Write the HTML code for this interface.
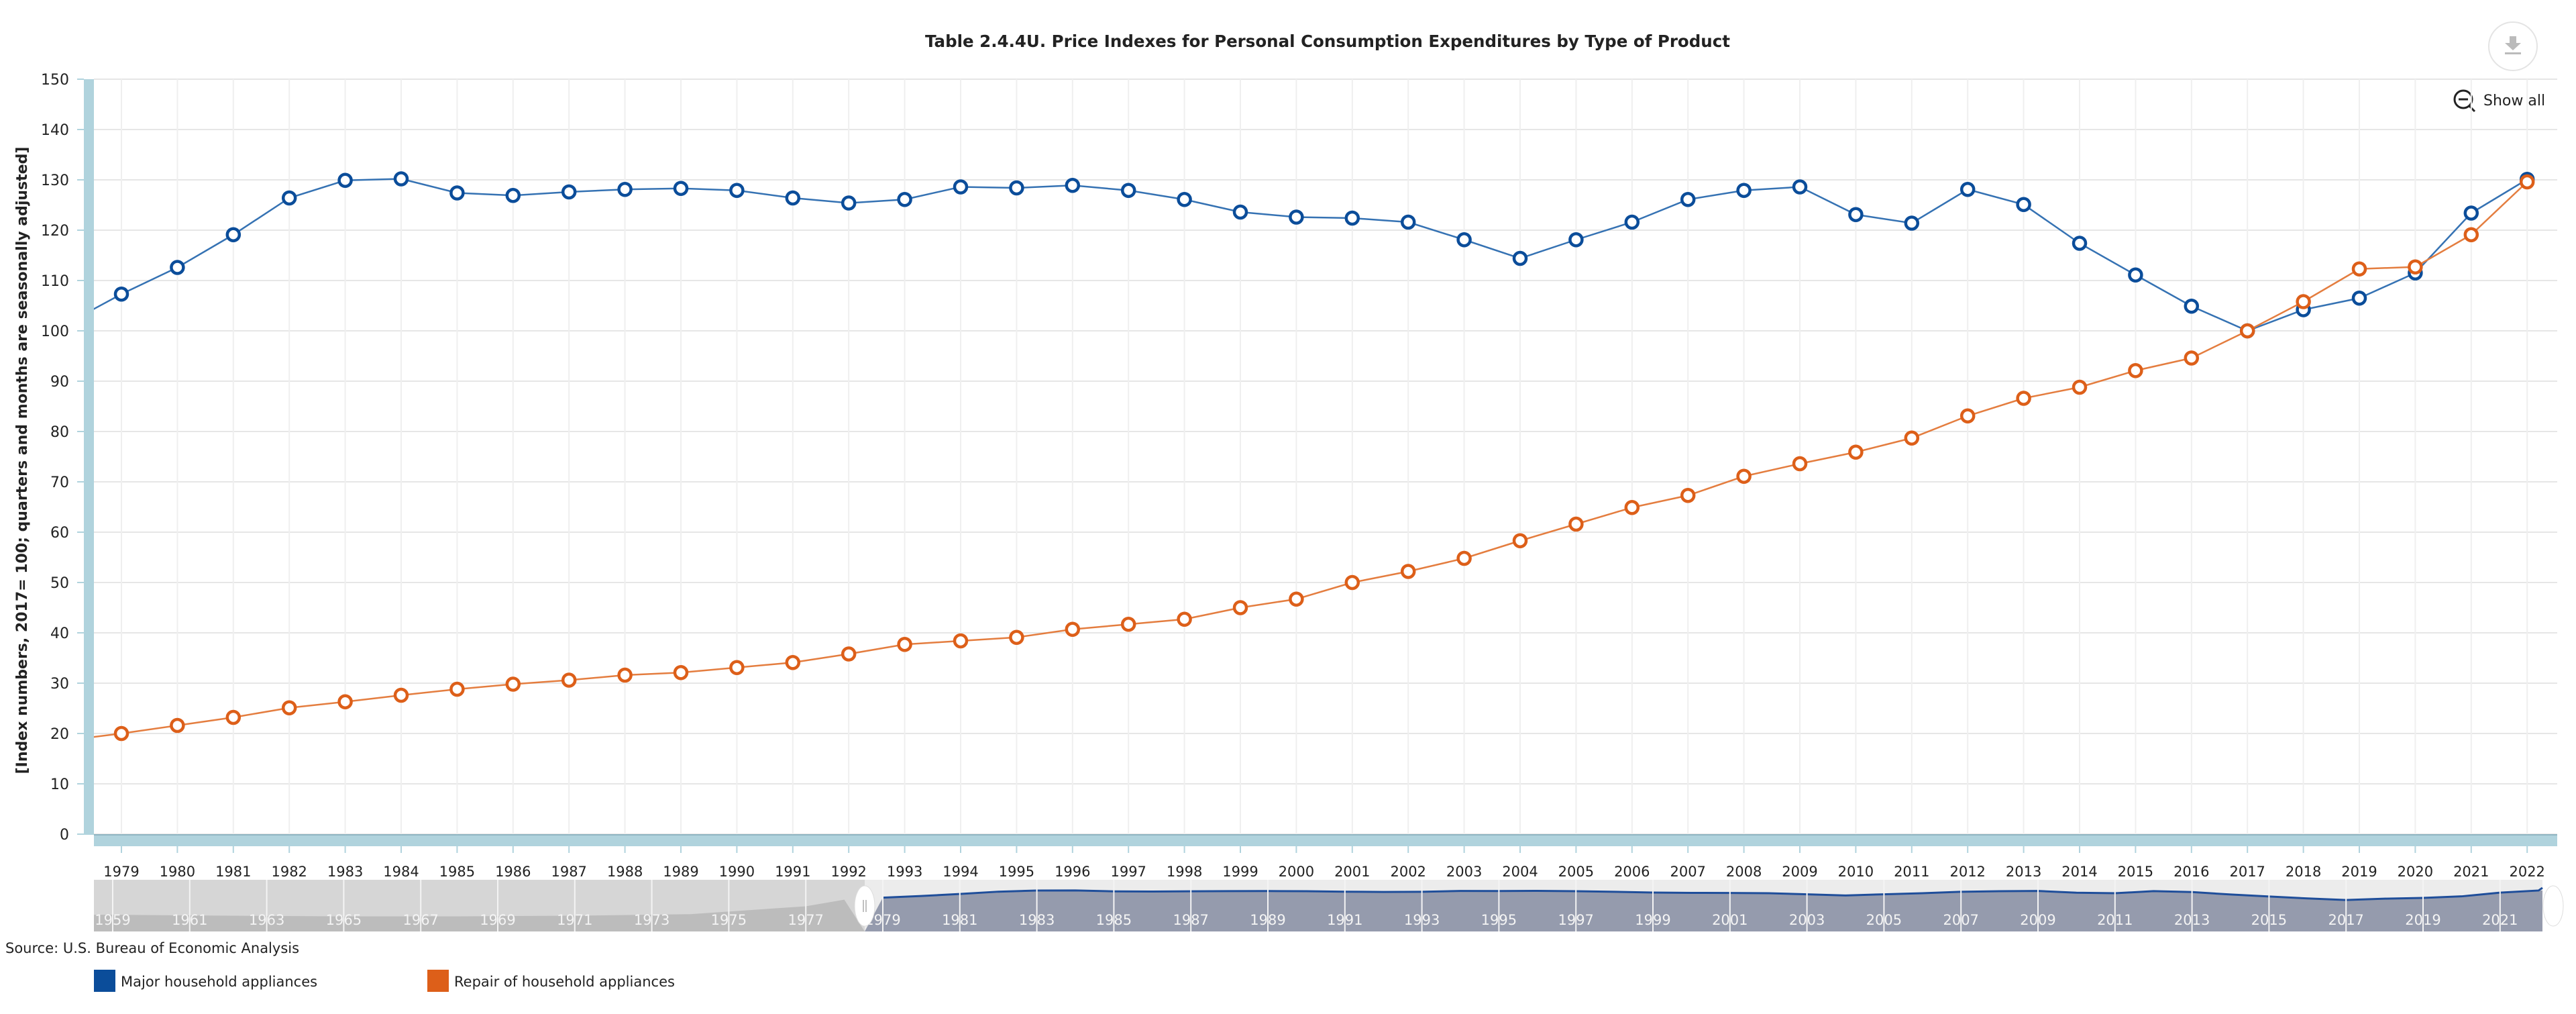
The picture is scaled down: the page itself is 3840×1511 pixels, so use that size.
<!DOCTYPE html>
<html><head><meta charset="utf-8"><style>
html,body{margin:0;padding:0;background:#fff;width:3840px;height:1511px;overflow:hidden}
svg text{font-family:"DejaVu Sans","Liberation Sans",sans-serif}
</style></head><body>
<svg id="chart" width="3840" height="1511" xmlns="http://www.w3.org/2000/svg">
<text x="1979" y="70" text-anchor="middle" font-size="24.5" font-weight="bold" fill="#222">Table 2.4.4U. Price Indexes for Personal Consumption Expenditures by Type of Product</text>
<g>
<circle cx="3746" cy="69" r="36" fill="#fff" stroke="#e4e4e4" stroke-width="2"/>
<path d="M3741 54h10v10h7l-12 11-12-11h7z" fill="#bbb"/><rect x="3734" y="78" width="24" height="3" fill="#bbb"/>
</g>
<g>
<circle cx="3672" cy="148" r="13" fill="none" stroke="#222" stroke-width="3"/>
<line x1="3665" y1="148" x2="3679" y2="148" stroke="#222" stroke-width="3"/>
<line x1="3681" y1="158" x2="3689" y2="166" stroke="#222" stroke-width="3"/>
<text x="3702" y="157" font-size="22" fill="#222">Show all</text>
</g>
<text transform="translate(40,686) rotate(-90)" text-anchor="middle" font-size="22" font-weight="bold" fill="#222">[Index numbers, 2017= 100; quarters and months are seasonally adjusted]</text>
<g id="grid"></g><g id="yticks"></g><g id="xticks"></g>
<rect x="125" y="118" width="15" height="1126" fill="#b0d3dd"/>
<rect x="140" y="1244" width="3672" height="17" fill="#b0d3dd"/>
<line x1="140" y1="1244" x2="3812" y2="1244" stroke="#8fb5c2" stroke-width="2"/>
<defs><clipPath id="pc"><rect x="140" y="100" width="3680" height="1144"/></clipPath></defs>
<g id="series" clip-path="url(#pc)"></g>
<g id="nav"></g>
<text x="8" y="1420" font-size="21" fill="#222" font-family="Liberation Sans Narrow, Liberation Sans, sans-serif">Source: U.S. Bureau of Economic Analysis</text>
<g>
<rect x="140" y="1445" width="32" height="33" fill="#0b4d9a"/>
<text x="180" y="1470" font-size="21" fill="#222">Major household appliances</text></g>
<g>
<rect x="637" y="1445" width="32" height="33" fill="#dd5f19"/>
<text x="677" y="1470" font-size="21" fill="#222">Repair of household appliances</text></g>
</svg>
<script>
const years=[1978,1979,1980,1981,1982,1983,1984,1985,1986,1987,1988,1989,1990,1991,1992,1993,1994,1995,1996,1997,1998,1999,2000,2001,2002,2003,2004,2005,2006,2007,2008,2009,2010,2011,2012,2013,2014,2015,2016,2017,2018,2019,2020,2021,2022];
const majorValues=[101.3,107.3,112.6,119.1,126.4,129.9,130.2,127.4,126.9,127.6,128.1,128.3,127.9,126.4,125.4,126.1,128.6,128.4,128.9,127.9,126.1,123.6,122.6,122.4,121.6,118.1,114.4,118.1,121.6,126.1,127.9,128.6,123.1,121.4,128.1,125.1,117.4,111.1,104.9,100,104.2,106.5,111.5,123.4,130.1];
const repairValues=[18.6,20.0,21.6,23.2,25.1,26.3,27.6,28.8,29.8,30.6,31.6,32.1,33.1,34.1,35.8,37.7,38.4,39.1,40.7,41.7,42.7,45.0,46.7,50.0,52.2,54.8,58.3,61.6,64.9,67.3,71.1,73.6,75.9,78.7,83.1,86.6,88.8,92.1,94.6,100,105.8,112.3,112.7,119.1,129.6];
const yTicks=[0,10,20,30,40,50,60,70,80,90,100,110,120,130,140,150];
const navYears=[1959,1961,1963,1965,1967,1969,1971,1973,1975,1977,1979,1981,1983,1985,1987,1989,1991,1993,1995,1997,1999,2001,2003,2005,2007,2009,2011,2013,2015,2017,2019,2021];
const navEarlyYears=[1959,1962,1965,1968,1971,1974,1977,1978];
const navEarlyValues=[53,50,48,48,50,55,80,101];
const NS="http://www.w3.org/2000/svg";
const X=y=>181+(y-1979)*83.4, Y=v=>1243-v*7.5;
const NX=y=>168+(y-1959)*57.4, NY=v=>1388-v*61/130;
function mk(t,a,p){const e=document.createElementNS(NS,t);for(const k in a)e.setAttribute(k,a[k]);(p||document.getElementById('chart')).appendChild(e);return e}
const grid=document.getElementById('grid'),yt=document.getElementById('yticks'),xt=document.getElementById('xticks');
yTicks.forEach(v=>{
 const l=mk('line',{x1:140,x2:3812,y1:Y(v),y2:Y(v),stroke:'#e6e6e6','stroke-width':2},grid);
 
 
 mk('line',{x1:115,x2:125,y1:Y(v),y2:Y(v),stroke:'#b0d3dd','stroke-width':2},yt);
 const t=mk('text',{x:103,y:Y(v)+8,'text-anchor':'end','font-size':22,fill:'#222','font-family':'Liberation Sans Narrow, Liberation Sans, sans-serif'},yt);
 t.textContent=v;
 
 
});
years.slice(1).forEach(y=>{
 mk('line',{x1:X(y),x2:X(y),y1:118,y2:1244,stroke:'#efefef','stroke-width':2},grid);
 mk('line',{x1:X(y),x2:X(y),y1:1261,y2:1271,stroke:'#b0d3dd','stroke-width':2},xt);
 const t=mk('text',{x:X(y),y:1306,'text-anchor':'middle','font-size':21,fill:'#222','font-family':'Liberation Sans Narrow, Liberation Sans, sans-serif'},xt);
 t.textContent=y;
 
 
});
const sg=document.getElementById('series');
function series(vals,col,lcol,name){
 const p=mk('polyline',{points:years.map((y,i)=>X(y)+','+Y(vals[i])).join(' '),fill:'none',stroke:lcol,'stroke-width':2.5},sg);
 
 
 years.forEach((y,i)=>{const c=mk('circle',{cx:X(y),cy:Y(vals[i]),r:9,fill:'#fff',stroke:col,'stroke-width':4.5},sg);
  
  });
}
series(majorValues,'#0b4d9a','#3572b3','major-appliances');
series(repairValues,'#dd5f19','#e47d3f','repair-appliances');
const nav=document.getElementById('nav');


const hx=1289;
mk('rect',{x:140,y:1311,width:hx-140,height:77,fill:'#d6d6d6'},nav);
mk('rect',{x:hx,y:1311,width:3790-hx,height:77,fill:'#ececec'},nav);
const early=navEarlyYears.map((y,i)=>NX(y)+','+NY(navEarlyValues[i]));
mk('polygon',{points:'140,1388 140,'+NY(navEarlyValues[0])+' '+early.join(' ')+' '+hx+',1388',fill:'#bcbcbc'},nav);
const late=years.map((y,i)=>[NX(y),NY(majorValues[i])]).filter(p=>p[0]>=hx);
mk('polygon',{points:hx+',1388 '+late.map(p=>p.join(',')).join(' ')+' 3790,'+late[late.length-1][1]+' 3790,1388',fill:'#959bad'},nav);
mk('polyline',{points:late.map(p=>p.join(',')).join(' ')+' 3790,'+(late[late.length-1][1]-4),fill:'none',stroke:'#1f4e9a','stroke-width':3},nav);
navYears.forEach(y=>{mk('line',{x1:NX(y),x2:NX(y),y1:1311,y2:1388,stroke:'#f4f4f4','stroke-width':2},nav);
 const t=mk('text',{x:NX(y),y:1378,'text-anchor':'middle','font-size':21,fill:'#f4f4f4','font-family':'Liberation Sans Narrow, Liberation Sans, sans-serif'},nav);t.textContent=y;});
const h=mk('ellipse',{cx:hx,cy:1350,rx:15,ry:30,fill:'#fff',stroke:'#ddd','stroke-width':1},nav);


mk('line',{x1:hx-2,x2:hx-2,y1:1341,y2:1359,stroke:'#aaa','stroke-width':1.5},nav);
mk('line',{x1:hx+2,x2:hx+2,y1:1341,y2:1359,stroke:'#aaa','stroke-width':1.5},nav);
const h2=mk('ellipse',{cx:3806,cy:1350,rx:15,ry:30,fill:'#fff',stroke:'#ddd','stroke-width':1},nav);


</script>
</body></html>
